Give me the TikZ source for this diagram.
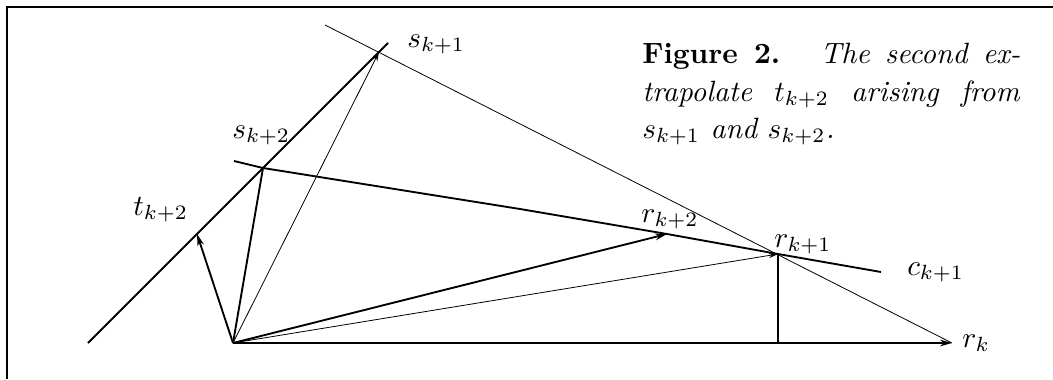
\documentclass[tikz,border=0pt]{standalone}
\usepackage{graphicx}
\usetikzlibrary{arrows.meta}
\newcommand{\bigtxt}[1]{\scalebox{2.2}{#1}}
\begin{document}
\begin{tikzpicture}[x=0.75pt,y=-0.75pt,
  thickln/.style={line width=1.4pt},
  thinln/.style={line width=0.6pt},
  tipb/.style={-{Stealth[length=9pt,width=5pt]}},
  tips/.style={-{Stealth[length=7pt,width=4pt]}},
  lbl/.style={font=\fontsize{10}{12}\selectfont, inner sep=0pt, anchor=base west},
  captext/.style={font=\fontsize{10}{12}\selectfont, inner sep=0pt, anchor=base west}]
\useasboundingbox (0,0) rectangle (1053,379);
% frame
\draw[line width=1.6pt] (1053,7) -- (7,7) -- (7,379);
% points
\coordinate (O) at (233,343);
\coordinate (rk) at (952,343);
\coordinate (rk1) at (778,254);
\coordinate (foot) at (778,343);
\coordinate (rk2) at (667,234);
\coordinate (sk1) at (379,52);
\coordinate (sk2) at (263,168);
\coordinate (tk2) at (197,234);
\coordinate (sA) at (88,343);
\coordinate (sB) at (388,43);
\coordinate (cA) at (234,161);
\coordinate (cM) at (520,209);
\coordinate (cB) at (881,272);
\coordinate (hA) at (325,25);
% lines
\draw[thinln] (hA) -- (rk);
\draw[thickln] (sA) -- (sB);
\draw[thickln] (cA) -- (sk2) -- (cM) -- (rk2) -- (rk1) -- (cB);
\draw[thickln, tipb] (O) -- (rk);
\draw[thickln] (foot) -- (rk1);
\draw[thickln] (O) -- (sk2);
\draw[thickln, tipb] (O) -- (tk2);
\draw[thickln, tipb] (O) -- (rk2);
\draw[thinln, tips] (O) -- (sk1);
\draw[thinln, tips] (O) -- (rk1);
% labels
\node[lbl] (Lsk1) at (407,47) {\bigtxt{$s_{k+1}$}};
\node[lbl] (Lsk2) at (232,138) {\bigtxt{$s_{k+2}$}};
\node[lbl] (Ltk2) at (133,215) {\bigtxt{$t_{k+2}$}};
\node[lbl] (Lrk2) at (641,222) {\bigtxt{$r_{k+2}$}};
\node[lbl] (Lrk1) at (774,247) {\bigtxt{$r_{k+1}$}};
\node[lbl] (Lck1) at (907,275) {\bigtxt{$c_{k+1}$}};
\node[lbl] (Lrk) at (962,347) {\bigtxt{$r_k$}};
% caption
\node[captext] (cap1) at (642,63) {\bigtxt{\makebox[128.9pt][s]{\textbf{Figure 2.} \ \textit{The second ex-}}}};
\node[captext] (cap2) at (642,101) {\bigtxt{\makebox[128.9pt][s]{\textit{trapolate $t_{k+2}$ arising from}}}};
\node[captext] (cap3) at (642,138) {\bigtxt{\textit{$s_{k+1}$ and $s_{k+2}$.}}};
\end{tikzpicture}
\end{document}
